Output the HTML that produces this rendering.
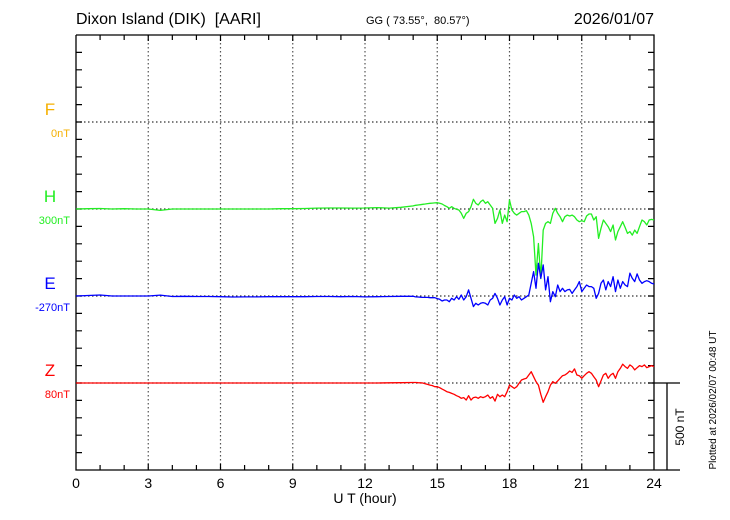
<!DOCTYPE html>
<html><head><meta charset="utf-8"><style>
html,body{margin:0;padding:0;background:#fff;}
svg{display:block;font-family:"Liberation Sans",Arial,sans-serif;}
</style></head><body>
<svg id="chart" width="730" height="520" viewBox="0 0 730 520" xmlns="http://www.w3.org/2000/svg">
<text x="76" y="24" font-size="16">Dixon Island (DIK)&#160; [AARI]</text>
<text x="366" y="24" font-size="11">GG ( 73.55°,&#160; 80.57°)</text>
<text x="654" y="24" font-size="16" text-anchor="end">2026/01/07</text>
<g id="grid"></g>
<g id="axes"></g>
<g id="series"></g>
<g id="labels"></g>
<text x="365" y="503" font-size="14" text-anchor="middle">U T (hour)</text>
<text transform="translate(684,427) rotate(-90)" font-size="12" text-anchor="middle">500 nT</text>
<text transform="translate(716,400) rotate(-90)" font-size="10" text-anchor="middle">Plotted at 2026/02/07 00:48 UT</text>
</svg>
<script>
const xTicks = [0,3,6,9,12,15,18,21,24];
const components = ["F","H","E","Z"];
const baseLabels = ["0nT","300nT","-270nT","80nT"];
const compColors = ["#f5b000","#22ee22","#0000ff","#ff0000"];
// hours: 0..14 step 0.5, then 14.1..24 step 0.1
const hours = [];
for (let i = 0; i <= 28; i++) hours.push(i * 0.5);
for (let i = 141; i <= 240; i++) hours.push(i / 10);
const hValues = [0,2,3,0,2,0,0,-8,0,0,0,0,0,0,0,0,0,2,2,3,5,6,6,5,6,8,5,10,18,
21,23,25,27,29,31,33,34,35,36,
33,29,20,13,4,13,4,-2,-6,-25,
-54,-25,-15,13,56,33,23,42,52,33,
42,23,4,-83,-54,-6,-83,-35,-73,52,
-6,-25,-35,-25,-15,-15,-10,-35,-83,-159,
-380,-198,-400,-121,-83,-73,-83,-25,4,-25,
-44,-73,-44,-35,-40,-35,-44,-63,-73,-67,
-73,-40,-29,-29,-63,-44,-169,-111,-63,-83,
-102,-130,-92,-178,-130,-102,-73,-106,-140,-130,
-150,-121,-140,-102,-63,-73,-92,-63,-60,-63];
const eValues = [0,3,6,0,0,0,0,5,-3,-2,-3,-3,-4,-6,-5,-5,-4,-4,-4,-4,-3,-3,-4,-3,-5,-4,-3,-2,-2,
-5,-6,-7,-8,-8,-8,-10,-10,-10,-15,
-19,-29,-23,-23,-33,-13,-23,-4,-19,6,
-23,-4,35,-13,-61,-42,-52,-42,-38,-42,
-52,-23,-13,15,-13,-52,-23,-4,-52,-13,
-23,6,-13,-4,-23,-13,-4,6,73,140,
44,188,102,179,35,111,-33,25,-4,63,
25,44,25,35,38,15,35,54,83,25,
44,63,54,54,44,-13,15,73,92,35,
83,54,111,25,92,44,83,63,54,131,
102,83,127,92,73,83,88,83,73,69];
const zValues = [0,0,0,0,0,0,0,0,0,0,0,0,0,0,0,0,0,0,0,0,0,0,0,0,0,0,1,2,3,
3,2,1,0,-4,-8,-12,-15,-21,-21,
-27,-35,-42,-50,-54,-60,-65,-73,-79,-88,
-84,-98,-73,-98,-84,-81,-88,-79,-84,-79,
-69,-88,-79,-104,-65,-79,-69,-79,-50,-12,
-21,-31,-21,-2,17,23,27,46,65,36,
8,-12,-65,-111,-79,-50,-12,8,-2,12,
27,42,46,56,69,61,81,46,42,27,
42,56,65,56,36,17,-21,12,46,56,
27,46,56,27,65,84,108,94,84,104,
94,75,88,100,94,104,88,94,100,94];
const seriesData = [null, hValues, eValues, zValues];

const NS = "http://www.w3.org/2000/svg";
const X0 = 76, X1 = 654, Y0 = 35, Y1 = 470;
const baseY = [122, 209, 296, 383];
const pxPerNT = 17.4 / 100;
const xs = h => X0 + h * (X1 - X0) / 24;
const ys = (ci, v) => baseY[ci] - v * pxPerNT;
function mk(tag, attrs, parent) {
  const e = document.createElementNS(NS, tag);
  for (const k in attrs) e.setAttribute(k, attrs[k]);
  parent.appendChild(e);
  return e;
}
const grid = document.getElementById("grid");
const axes = document.getElementById("axes");
const series = document.getElementById("series");
const labels = document.getElementById("labels");

xTicks.forEach(t => {
  if (t > 0 && t < 24) {
    const l = mk("line", {x1: xs(t), x2: xs(t), y1: Y0, y2: Y1, stroke: "#555", "stroke-width": 1.2, "stroke-dasharray": "1.5,2.5"}, grid);
    
    
  }
  const tx = mk("text", {x: xs(t), y: 488, "font-size": 14, "text-anchor": "middle"}, axes);
  tx.textContent = t;
  
  
});
baseY.forEach(y => {
  const l = mk("line", {x1: X0, x2: X1, y1: y, y2: y, stroke: "#333", "stroke-width": 1.2, "stroke-dasharray": "1.5,2.5"}, grid);
  
  
});
const frame = mk("path", {d: `M${X0},${Y0}V${Y1}H680M${X0},${Y0}H${X1}V${Y1}M${X1},383H680M667,383V${Y1}`, stroke: "#000", "stroke-width": 1.3, fill: "none"}, axes);


let td = "";
for (let h = 1; h < 24; h++) {
  const len = h % 3 === 0 ? 6 : 5;
  td += `M${xs(h)},${Y1}v${-len}M${xs(h)},${Y0}v${len}`;
}
for (let k = 1; k < 25; k++) {
  const y = Y0 + k * 17.4;
  td += `M${X0},${y}h6M${X1},${y}h-6`;
}
const ticks = mk("path", {d: td, stroke: "#000", "stroke-width": 1.2, fill: "none"}, axes);



components.forEach((c, ci) => {
  const t1 = mk("text", {x: 50, y: baseY[ci] - 7, "font-size": 17, "text-anchor": "middle", fill: compColors[ci]}, labels);
  t1.textContent = c;
  
  
  const t2 = mk("text", {x: 70, y: baseY[ci] + 15, "font-size": 11, "text-anchor": "end", fill: compColors[ci]}, labels);
  t2.textContent = baseLabels[ci];
  
  
  const vals = seriesData[ci];
  if (!vals) return;
  const pts = vals.map((v, i) => `${xs(hours[i]).toFixed(1)},${ys(ci, v).toFixed(1)}`).join(" ");
  const pl = mk("polyline", {points: pts, fill: "none", stroke: compColors[ci], "stroke-width": 1.3, "stroke-linejoin": "round"}, series);
  
  
});
</script>
</body></html>
